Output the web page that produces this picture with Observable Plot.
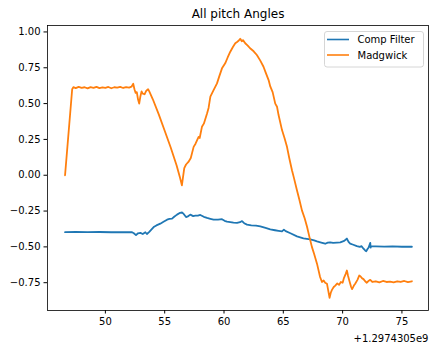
<!DOCTYPE html>
<html>
<head>
<meta charset="utf-8">
<script src="https://cdn.jsdelivr.net/npm/d3@7"></script>
<script src="https://cdn.jsdelivr.net/npm/@observablehq/plot@0.6"></script>
<style>
  html, body { margin: 0; padding: 0; background: #fff; }
  svg { display: block; }
</style>
</head>
<body>
<div id="chart"></div>
<script>
const title = "All pitch Angles";
const offsetLabel = "+1.2974305e9";
const seriesNames = ["Comp Filter", "Madgwick"];
const seriesColors = ["#1f77b4", "#ff7f0e"];
const xTicks = [50, 55, 60, 65, 70, 75];
const yTicks = [-0.75, -0.5, -0.25, 0, 0.25, 0.5, 0.75, 1.0];

const madgwickT = [46.6, 47.2, 47.3, 47.5, 47.75, 48.0, 48.25, 48.5, 48.75, 49.0, 49.25, 49.5, 49.75, 50.0, 50.25, 50.5, 50.75, 51.0, 51.25, 51.5, 51.75, 52.0, 52.2, 52.35, 52.45, 52.55, 52.65, 52.75, 52.85, 52.95, 53.05, 53.15, 53.3, 53.45, 53.6, 53.7, 54.0, 54.5, 55.0, 55.5, 56.0, 56.3, 56.45, 56.55, 56.65, 56.8, 57.0, 57.2, 57.44, 57.6, 57.86, 57.95, 58.14, 58.3, 58.57, 58.7, 58.85, 59.1, 59.41, 59.6, 59.83, 60.1, 60.3, 60.53, 60.75, 60.95, 61.1, 61.25, 61.37, 61.5, 61.6, 61.79, 62.0, 62.2, 62.5, 62.77, 63.06, 63.33, 63.5, 63.76, 63.9, 64.1, 64.32, 64.47, 64.6, 64.89, 65.1, 65.31, 65.5, 65.73, 65.9, 66.15, 66.35, 66.57, 66.8, 67.0, 67.2, 67.41, 67.6, 67.84, 68.1, 68.26, 68.4, 68.53, 68.68, 68.8, 68.9, 69.0, 69.1, 69.25, 69.38, 69.55, 69.7, 69.85, 70.0, 70.1, 70.25, 70.36, 70.45, 70.58, 70.7, 70.8, 70.95, 71.06, 71.25, 71.4, 71.5, 71.65, 71.76, 71.9, 72.04, 72.15, 72.33, 72.5, 72.8, 73.1, 73.4, 73.7, 74.0, 74.3, 74.6, 74.9, 75.2, 75.5, 75.84];
const madgwickPitch = [0.0, 0.60, 0.615, 0.608, 0.617, 0.61, 0.614, 0.606, 0.615, 0.61, 0.617, 0.608, 0.613, 0.61, 0.616, 0.607, 0.614, 0.611, 0.617, 0.609, 0.615, 0.612, 0.618, 0.638, 0.60, 0.575, 0.58, 0.53, 0.50, 0.55, 0.585, 0.57, 0.565, 0.59, 0.60, 0.585, 0.53, 0.425, 0.31, 0.195, 0.07, -0.02, -0.07, -0.01, 0.05, 0.075, 0.093, 0.12, 0.198, 0.22, 0.268, 0.26, 0.338, 0.36, 0.431, 0.47, 0.548, 0.59, 0.641, 0.69, 0.746, 0.781, 0.82, 0.862, 0.895, 0.921, 0.93, 0.94, 0.952, 0.935, 0.943, 0.921, 0.905, 0.886, 0.865, 0.839, 0.80, 0.757, 0.72, 0.664, 0.62, 0.58, 0.50, 0.478, 0.42, 0.315, 0.26, 0.198, 0.12, 0.035, -0.02, -0.105, -0.17, -0.245, -0.30, -0.36, -0.43, -0.50, -0.55, -0.617, -0.71, -0.745, -0.735, -0.75, -0.757, -0.81, -0.855, -0.82, -0.80, -0.78, -0.77, -0.755, -0.765, -0.745, -0.75, -0.72, -0.69, -0.665, -0.70, -0.74, -0.775, -0.795, -0.77, -0.757, -0.73, -0.70, -0.705, -0.72, -0.725, -0.74, -0.75, -0.74, -0.73, -0.745, -0.74, -0.748, -0.738, -0.745, -0.742, -0.748, -0.74, -0.745, -0.738, -0.746, -0.74];

const compT = [46.6, 47.5, 48.5, 49.5, 50.5, 51.5, 52.25, 52.4, 52.58, 52.75, 52.95, 53.15, 53.37, 53.5, 53.7, 54.07, 54.3, 54.63, 54.9, 55.2, 55.4, 55.62, 55.8, 56.04, 56.3, 56.46, 56.6, 56.8, 57.0, 57.16, 57.4, 57.58, 57.8, 58.0, 58.3, 58.57, 58.85, 59.12, 59.5, 59.83, 60.05, 60.25, 60.53, 60.8, 61.1, 61.35, 61.52, 61.7, 61.94, 62.3, 62.7, 63.06, 63.5, 63.9, 64.3, 64.6, 64.89, 65.05, 65.2, 65.6, 66.15, 66.7, 67.27, 67.6, 67.84, 68.2, 68.53, 68.75, 68.95, 69.2, 69.52, 69.8, 70.08, 70.25, 70.36, 70.5, 70.64, 70.9, 71.2, 71.45, 71.6, 71.76, 71.9, 71.99, 72.1, 72.18, 72.25, 72.33, 72.36, 72.4, 72.8, 73.5, 74.2, 75.0, 75.84];
const compPitch = [-0.397, -0.396, -0.397, -0.396, -0.398, -0.397, -0.398, -0.405, -0.418, -0.405, -0.402, -0.41, -0.398, -0.41, -0.395, -0.362, -0.35, -0.338, -0.325, -0.31, -0.305, -0.303, -0.29, -0.275, -0.262, -0.26, -0.27, -0.292, -0.285, -0.275, -0.285, -0.282, -0.282, -0.277, -0.29, -0.298, -0.304, -0.31, -0.31, -0.307, -0.318, -0.324, -0.327, -0.331, -0.333, -0.328, -0.32, -0.335, -0.345, -0.35, -0.352, -0.357, -0.368, -0.378, -0.384, -0.388, -0.392, -0.38, -0.39, -0.405, -0.427, -0.44, -0.448, -0.455, -0.462, -0.47, -0.478, -0.47, -0.468, -0.472, -0.47, -0.468, -0.46, -0.45, -0.442, -0.465, -0.478, -0.485, -0.495, -0.50, -0.495, -0.513, -0.525, -0.53, -0.515, -0.506, -0.49, -0.472, -0.505, -0.497, -0.497, -0.498, -0.497, -0.499, -0.499];

const comp = compT.map((t, i) => ({t, v: compPitch[i]}));
const madg = madgwickT.map((t, i) => ({t, v: madgwickPitch[i]}));

const fmt = d3.format(".2f");

const chart = Plot.plot({
  width: 429,
  height: 347,
  marginLeft: 47,
  marginRight: 1,
  marginTop: 25,
  marginBottom: 37,
  style: {fontFamily: "DejaVu Sans", fontSize: "10px", color: "#000", background: "#fff"},
  x: {domain: [45.12, 77.24], ticks: xTicks, tickFormat: d => String(d), tickSize: 3.5, tickPadding: 3.5, label: null},
  y: {domain: [-0.944, 1.045], ticks: yTicks, tickFormat: d => fmt(d), tickSize: 3.5, tickPadding: 3.5, label: null},
  marks: [
    Plot.line(comp, {x: "t", y: "v", stroke: seriesColors[0], strokeWidth: 1.8}),
    Plot.line(madg, {x: "t", y: "v", stroke: seriesColors[1], strokeWidth: 1.8}),
    Plot.frame({stroke: "#000", strokeWidth: 0.8}),
    Plot.text([title], {frameAnchor: "top", dy: -11, text: d => d, fontSize: 12, fill: "#000", lineAnchor: "middle"}),
    Plot.text([offsetLabel], {frameAnchor: "bottom-right", dy: 28, text: d => d, fontSize: 10, fill: "#000", textAnchor: "end", lineAnchor: "middle"})
  ]
});

// Legend
const svg = d3.select(chart);
const lg = svg.append("g").attr("font-family", "DejaVu Sans").attr("font-size", 10).attr("text-anchor", "start");
lg.append("rect")
  .attr("x", 324.5).attr("y", 31.5).attr("width", 99).attr("height", 35.5)
  .attr("rx", 2.5).attr("fill", "#fff").attr("fill-opacity", 0.8)
  .attr("stroke", "#cccccc").attr("stroke-width", 0.8);
seriesNames.forEach((name, i) => {
  const yy = 39.5 + i * 15.5;
  lg.append("line").attr("x1", 327).attr("x2", 349).attr("y1", yy).attr("y2", yy)
    .attr("stroke", seriesColors[i]).attr("stroke-width", 1.6);
  lg.append("text").attr("x", 357.5).attr("y", yy).attr("dy", "0.35em")
    .attr("text-anchor", "start").attr("fill", "#000").text(name);
});

document.getElementById("chart").appendChild(chart);
</script>
</body>
</html>
